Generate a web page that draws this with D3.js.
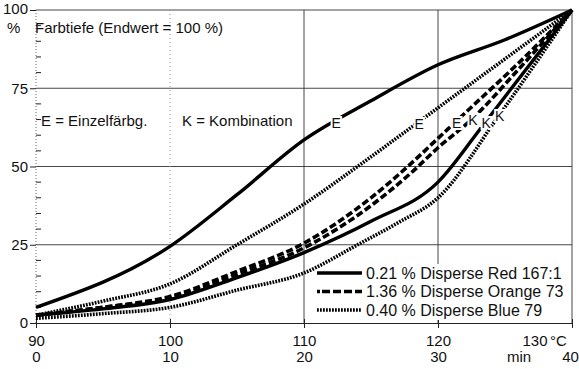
<!DOCTYPE html>
<html>
<head>
<meta charset="utf-8">
<script src="https://cdn.jsdelivr.net/npm/d3@7"></script>
<style>
body { margin: 0; background: #fff; }
svg text { font-family: "Liberation Sans", Arial, sans-serif; fill: #111; }
</style>
</head>
<body>
<div id="chart"></div>
<script>
var width = 579;
var height = 369;

// axis values: x in minutes (second row) and degC (first row), y in % Farbtiefe
var minuteTicks = [0, 10, 20, 30, 40];
var tempLabels = ["90", "100", "110", "120", "130"];
var yMajor = [0, 25, 50, 75, 100];
var yMinor = [5, 10, 15, 20, 30, 35, 40, 45, 55, 60, 65, 70, 80, 85, 90, 95];

// curves, [minute, percent]
var redE    = [[0,5],[10,24.5],[15,41],[20,58.5],[25,71],[30,82.5],[35,90.5],[40,100]];
var redK    = [[0,2.5],[5,4.5],[10,7.5],[15,14.5],[20,22.5],[25,32.5],[30,45],[33.5,64],[40,100]];
var orangeE = [[0,2.5],[5,5],[10,8.5],[15,16.5],[20,25.5],[25,40],[28,51],[30,59],[32,67],[36,83],[40,100]];
var orangeK = [[0,2.5],[5,5],[10,8],[15,15.5],[20,24],[25,37.5],[28,48],[30,56],[32.5,65],[36,81],[40,100]];
var blueE   = [[0,2.5],[5,7],[10,12.5],[15,25],[20,38],[24,50],[28,62.5],[32,75],[36,87.5],[40,100]];
var blueK   = [[0,1.5],[5,3],[10,5],[15,10.5],[20,16],[24,25],[27,32],[30,40],[34.5,66],[40,100]];

// E / K letters sit on the curves at these minutes
var curveLetters = ["E", "K", "E", "K", "E", "K"];
var letterMinutes = [22.4, 33.6, 31.4, 32.6, 28.6, 34.6];

var legendNames = ["0.21 % Disperse Red 167:1", "1.36 % Disperse Orange 73", "0.40 % Disperse Blue 79"];

var styles = {
    solid:  { w: 3.4, dash: null },
    dashed: { w: 3.6, dash: "7,3" },
    dotted: { w: 3.6, dash: "1.8,1.2" }
};

var curves = [
    { data: redE,    style: "solid" },
    { data: redK,    style: "solid" },
    { data: orangeE, style: "dashed" },
    { data: orangeK, style: "dashed" },
    { data: blueE,   style: "dotted" },
    { data: blueK,   style: "dotted" }
];

var x = d3.scaleLinear().domain([0, 40]).range([36, 572]);
var y = d3.scaleLinear().domain([0, 100]).range([323, 10]);

var svg = d3.select("#chart").append("svg")
    .attr("width", width)
    .attr("height", height);

// grid
svg.append("g").selectAll("line")
    .data([25, 50, 75, 100])
    .enter().append("line")
        .attr("x1", x(0)).attr("x2", x(40))
        .attr("y1", d => y(d)).attr("y2", d => y(d))
        .attr("stroke", "#333")
        .attr("stroke-width", 0.9);

svg.append("g").selectAll("line")
    .data([10, 20, 30, 40])
    .enter().append("line")
        .attr("x1", d => x(d)).attr("x2", d => x(d))
        .attr("y1", y(0)).attr("y2", y(100))
        .attr("stroke", d => d == 10 ? "#888" : "#333")
        .attr("stroke-dasharray", d => d == 10 ? "1,3" : null)
        .attr("stroke-width", 0.9);

// left axis: dotted spine, minor ticks inward
svg.append("line")
    .attr("x1", x(0)).attr("x2", x(0))
    .attr("y1", y(0)).attr("y2", y(100))
    .attr("stroke", "#555")
    .attr("stroke-dasharray", "1,2")
    .attr("stroke-width", 0.9);

svg.append("g").selectAll("line")
    .data(yMinor)
    .enter().append("line")
        .attr("x1", x(0)).attr("x2", x(0) + 5)
        .attr("y1", d => y(d)).attr("y2", d => y(d))
        .attr("stroke", "#222")
        .attr("stroke-width", 1);

var yAxis = svg.append("g")
    .attr("transform", "translate(" + x(0) + ",0)")
    .call(d3.axisLeft(y).tickValues(yMajor).tickSize(6).tickPadding(2));
yAxis.select(".domain").remove();
yAxis.selectAll("line").attr("stroke", "#222");
yAxis.selectAll("text")
    .style("font-size", "15px")
    .attr("fill", "#111")
    .filter(d => d == 100).attr("dy", "0.25em");

// bottom axis: temperatures, then minutes underneath
var xAxis = svg.append("g")
    .attr("transform", "translate(0," + y(0) + ")")
    .call(d3.axisBottom(x).tickValues(minuteTicks).tickSize(5).tickPadding(7)
        .tickFormat((d, i) => tempLabels[i]));
xAxis.select(".domain").attr("stroke", "#222").attr("stroke-width", 1);
xAxis.selectAll("line").attr("stroke", "#222").attr("y1", -4);
xAxis.selectAll("text")
    .style("font-size", "15px")
    .attr("fill", "#111")
    .filter(d => d == 40).attr("text-anchor", "end").attr("dx", -25);

var minAxis = svg.append("g")
    .attr("transform", "translate(0," + (y(0) + 17) + ")")
    .call(d3.axisBottom(x).tickValues(minuteTicks).tickSize(0).tickPadding(11));
minAxis.select(".domain").remove();
minAxis.selectAll("text")
    .style("font-size", "15px")
    .attr("fill", "#111")
    .filter(d => d == 40).attr("dx", -2);

svg.append("text").attr("x", 550).attr("y", 345.5).style("font-size", "15px").text("°C");
svg.append("text").attr("x", 507).attr("y", 362).style("font-size", "15px").text("min");

// titles
svg.append("text").attr("x", 7).attr("y", 33).style("font-size", "15px").text("%");
svg.append("text").attr("x", 35).attr("y", 33).style("font-size", "15px").text("Farbtiefe (Endwert = 100 %)");
svg.append("text").attr("x", 41).attr("y", 126).style("font-size", "15px").text("E = Einzelfärbg.");
svg.append("text").attr("x", 182).attr("y", 126).style("font-size", "15px").text("K = Kombination");

// curves
var line = d3.line()
    .x(d => x(d[0]))
    .y(d => y(d[1]))
    .curve(d3.curveMonotoneX);

svg.append("g").selectAll("path")
    .data(curves)
    .enter().append("path")
        .attr("d", d => line(d.data))
        .attr("fill", "none")
        .attr("stroke", "#000")
        .attr("stroke-width", d => styles[d.style].w)
        .attr("stroke-dasharray", d => styles[d.style].dash);

function valueAt(data, m) {
    for (var i = 1; i < data.length; i++) {
        if (m <= data[i][0]) {
            var a = data[i - 1], b = data[i];
            return a[1] + (b[1] - a[1]) * (m - a[0]) / (b[0] - a[0]);
        }
    }
    return data[data.length - 1][1];
}

svg.append("g").selectAll("text")
    .data(curves)
    .enter().append("text")
        .attr("x", (d, i) => x(letterMinutes[i]))
        .attr("y", (d, i) => y(valueAt(d.data, letterMinutes[i])))
        .attr("dy", "0.5em")
        .attr("text-anchor", "middle")
        .style("font-size", "14px")
        .attr("stroke", "#fff")
        .attr("stroke-width", 4)
        .attr("paint-order", "stroke")
        .text((d, i) => curveLetters[i]);

// legend
var legend = svg.append("g");
legend.append("rect")
    .attr("x", 363).attr("y", 264)
    .attr("width", x(40) - 364).attr("height", 56)
    .attr("fill", "#fff");

var legendStyles = ["solid", "dashed", "dotted"];
var rows = legend.selectAll("g")
    .data(legendNames)
    .enter().append("g")
        .attr("transform", (d, i) => "translate(0," + (273 + i * 18.5) + ")");
rows.append("line")
    .attr("x1", 317).attr("x2", 362)
    .attr("stroke", "#000")
    .attr("stroke-width", (d, i) => styles[legendStyles[i]].w)
    .attr("stroke-dasharray", (d, i) => i == 1 ? "3,2,8,3,8,3,8,3,8" : styles[legendStyles[i]].dash);
rows.append("text")
    .attr("x", 366).attr("y", 5.5)
    .style("font-size", "16px")
    .text(d => d);
</script>
</body>
</html>
